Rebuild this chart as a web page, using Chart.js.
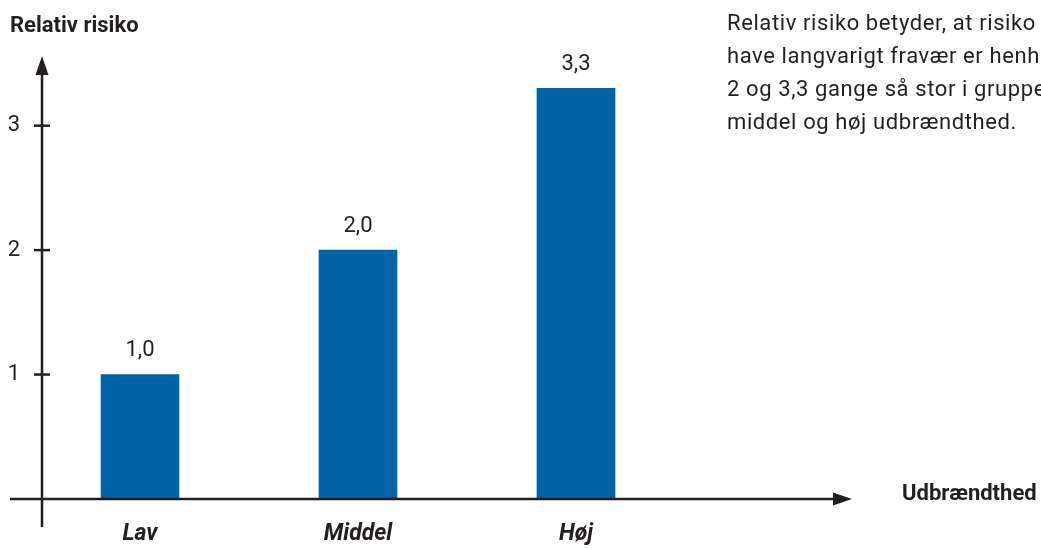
<!DOCTYPE html>
<html lang="da">
<head>
<meta charset="utf-8">
<script src="https://cdn.jsdelivr.net/npm/chart.js@4.4.1/dist/chart.umd.min.js"></script>
<style>
  html, body { margin: 0; padding: 0; background: #fff; }
  body { width: 1041px; height: 549px; position: relative; overflow: hidden; font-family: Roboto, sans-serif; color: #231f20; }
  #wrap { position: absolute; left: 0; top: 0; width: 1041px; height: 549px; }
  .y-title { position: absolute; left: 10px; top: 12px; font-weight: 700; font-size: 22px; }
  .x-title { position: absolute; left: 902px; top: 480px; font-weight: 700; font-size: 22px; }
  .note { position: absolute; left: 727px; top: 6px; font-size: 22px; line-height: 33px; letter-spacing: 0.6px; white-space: nowrap; }
</style>
</head>
<body>
<div id="wrap"><canvas id="chart" width="1041" height="549"></canvas></div>
<div class="y-title">Relativ risiko</div>
<div class="x-title">Udbrændthed</div>
<div class="note">Relativ risiko betyder, at risiko<br>have langvarigt fravær er henh<br>2 og 3,3 gange så stor i grupper<br>middel og høj udbrændthed.</div>
<script>
// ============================== DATA

const categories = ['Lav', 'Middel', 'Høj'];
const relativeRisk = [1.0, 2.0, 3.3];
const yTickValues = [1, 2, 3];

const barColor = '#0064a7';
const inkColor = '#231f20';

// ============================== PLUGINS

const axesArrows = {
  id: 'axesArrows',
  afterDraw(chart) {
    const { ctx, chartArea: { left, right, top, bottom } } = chart;
    const yScale = chart.scales.y;
    const axisX = left + 11;
    const tipX = right + 167;
    const tipY = top + 5;

    ctx.save();
    ctx.strokeStyle = inkColor;
    ctx.fillStyle = inkColor;
    ctx.lineWidth = 2.5;

    // x axis
    ctx.beginPath();
    ctx.moveTo(left - 21, bottom);
    ctx.lineTo(tipX - 16, bottom);
    ctx.stroke();
    ctx.beginPath();
    ctx.moveTo(tipX, bottom);
    ctx.lineTo(tipX - 19, bottom - 6.5);
    ctx.lineTo(tipX - 19, bottom + 6.5);
    ctx.closePath();
    ctx.fill();

    // y axis
    ctx.beginPath();
    ctx.moveTo(axisX, bottom + 28);
    ctx.lineTo(axisX, tipY + 16);
    ctx.stroke();
    ctx.beginPath();
    ctx.moveTo(axisX, tipY);
    ctx.lineTo(axisX - 6.5, tipY + 19);
    ctx.lineTo(axisX + 6.5, tipY + 19);
    ctx.closePath();
    ctx.fill();

    // tick marks
    yScale.ticks.forEach(t => {
      const y = yScale.getPixelForValue(t.value);
      ctx.beginPath();
      ctx.moveTo(axisX - 8, y);
      ctx.lineTo(axisX + 8, y);
      ctx.stroke();
    });
    ctx.restore();
  }
};

const valueLabels = {
  id: 'valueLabels',
  afterDatasetsDraw(chart) {
    const { ctx } = chart;
    const meta = chart.getDatasetMeta(0);
    ctx.save();
    ctx.font = '400 22px Roboto';
    ctx.fillStyle = inkColor;
    ctx.textAlign = 'center';
    ctx.textBaseline = 'middle';
    meta.data.forEach((bar, i) => {
      const txt = relativeRisk[i].toFixed(1).replace('.', ',');
      ctx.fillText(txt, bar.x, bar.y - 24);
    });
    ctx.restore();
  }
};

// ============================== CHART

new Chart(document.getElementById('chart'), {
  type: 'bar',
  data: {
    labels: categories,
    datasets: [{
      label: 'Relativ risiko',
      data: relativeRisk,
      backgroundColor: barColor,
      borderWidth: 0,
      barThickness: 78,
    }]
  },
  options: {
    responsive: false,
    animation: false,
    events: [],
    layout: {
      padding: { top: 51, right: 356, left: 0, bottom: 0 }
    },
    plugins: {
      legend: { display: false },
      tooltip: { enabled: false },
    },
    scales: {
      x: {
        grid: { display: false, drawTicks: false },
        border: { display: false },
        ticks: {
          padding: 21,
          color: inkColor,
          font: { family: 'Roboto', size: 23, weight: '700', style: 'italic' },
        },
        afterFit(scale) { scale.height = 50; },
      },
      y: {
        min: 0,
        max: 3.6,
        grid: { display: false, drawTicks: false },
        border: { display: false },
        afterBuildTicks(scale) {
          scale.ticks = yTickValues.map(v => ({ value: v }));
        },
        ticks: {
          padding: 11,
          color: inkColor,
          font: { family: 'Roboto', size: 22 },
        },
        afterFit(scale) { scale.width = 31; },
      }
    }
  },
  plugins: [axesArrows, valueLabels],
});
</script>
</body>
</html>
